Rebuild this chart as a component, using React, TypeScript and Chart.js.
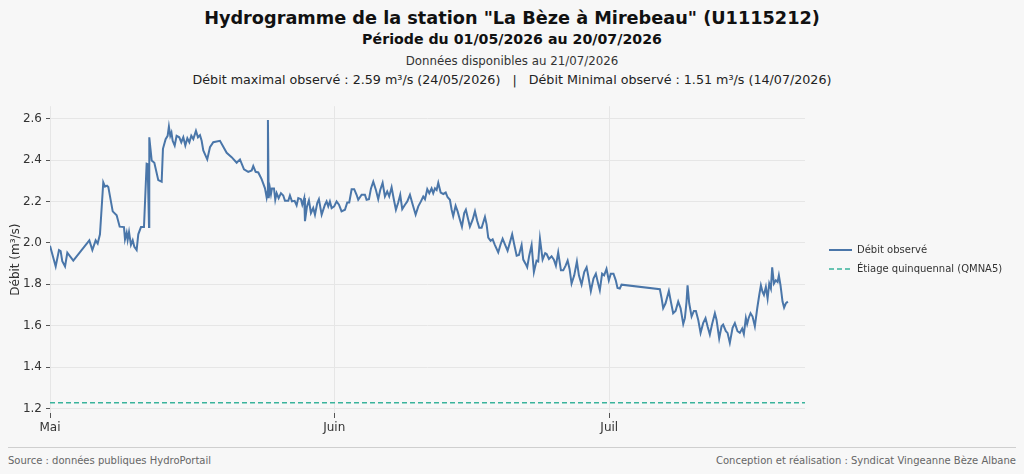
import React, { useEffect, useRef } from "react";
import { Chart, registerables } from "chart.js";

Chart.register(...registerables);

// Days since 01/05/2026 00:00
const DAYS = [
  0, 0.62, 0.98, 1.16, 1.34, 1.64, 1.89, 2.54, 4.29, 4.62, 4.98, 5.2, 5.45, 5.81, 6.0, 6.22, 6.36, 6.84, 7.27, 7.6,
  8.07, 8.18, 8.36, 8.47, 8.62, 8.83, 9.02, 9.2, 9.45, 9.63, 9.92, 10.25, 10.54, 10.65, 10.8, 10.83, 11.09, 11.38, 11.81, 12.18,
  12.32, 12.61, 12.83, 12.97, 13.12, 13.25, 13.38, 13.6, 13.81, 14.1, 14.32, 14.54, 14.76, 14.98, 15.2, 15.41, 15.63, 15.92, 16.14, 16.36,
  16.54, 16.72, 17.15, 17.45, 17.81, 18.54, 19.27, 19.81, 20.36, 20.72, 21.16, 21.62, 22.0, 22.17, 22.43, 22.72, 23.08, 23.45, 23.63, 23.74,
  23.77, 23.85, 23.99, 24.1, 24.21, 24.43, 24.57, 24.72, 24.94, 25.19, 25.44, 25.63, 25.99, 26.17, 26.39, 26.68, 26.9, 27.08, 27.37, 27.52,
  27.73, 27.81, 28.03, 28.24, 28.46, 28.71, 28.9, 29.15, 29.33, 29.63, 29.99, 30.17, 30.35, 30.53, 30.72, 31.0, 31.26, 31.52, 31.8, 32.17,
  32.42, 32.64, 32.9, 33.18, 33.44, 33.62, 33.99, 34.35, 34.53, 34.79, 35.01, 35.26, 35.55, 35.8, 36.02, 36.28, 36.53, 36.78, 37.0, 37.26,
  37.51, 37.73, 37.98, 38.2, 38.42, 38.72, 38.97, 39.26, 39.51, 39.88, 40.17, 40.46, 40.71, 40.9, 41.15, 41.37, 41.62, 41.8, 41.99, 42.17,
  42.35, 42.61, 42.9, 43.16, 43.37, 43.62, 43.81, 43.98, 44.24, 44.46, 44.71, 44.93, 45.18, 45.36, 45.62, 45.8, 46.1, 46.35, 46.6, 46.82,
  47.08, 47.44, 47.62, 47.8, 48.06, 48.28, 48.53, 48.89, 49.15, 49.37, 49.62, 49.91, 50.16, 50.41, 50.63, 50.9, 51.15, 51.44, 51.62, 51.88,
  52.05, 52.27, 52.53, 52.78, 53.07, 53.25, 53.44, 53.73, 54.01, 54.17, 54.42, 54.71, 54.96, 55.18, 55.43, 55.73, 55.98, 56.24, 56.46, 56.67,
  56.89, 57.18, 57.47, 57.69, 57.98, 58.27, 58.53, 58.7, 58.99, 59.28, 59.54, 59.79, 59.97, 60.22, 60.44, 60.7, 60.95, 61.17, 61.46, 61.71,
  61.9, 62.15, 62.34, 66.52, 66.7, 66.88, 67.14, 67.5, 67.72, 67.97, 68.23, 68.52, 68.78, 69.07, 69.25, 69.43, 69.54, 69.72, 69.98, 70.23,
  70.45, 70.7, 70.96, 71.24, 71.5, 71.72, 71.97, 72.22, 72.52, 72.7, 72.99, 73.25, 73.42, 73.72, 73.9, 74.15, 74.45, 74.7, 74.99, 75.24,
  75.5, 75.68, 75.9, 76.04, 76.2, 76.41, 76.63, 76.88, 77.14, 77.36, 77.54, 77.72, 77.87, 78.08, 78.27, 78.45, 78.63, 78.77, 78.96, 79.17,
  79.36, 79.5, 79.68, 79.9, 80.07, 80.26, 80.48,
];

// Débit observé (m³/s)
const FLOW = [
  1.986, 1.886, 1.965, 1.96, 1.911, 1.886, 1.952, 1.914, 2.012, 1.965, 2.012, 1.997, 2.041, 2.292, 2.271, 2.276, 2.27, 2.152, 2.133, 2.078,
  2.076, 2.017, 2.049, 2.014, 2.052, 1.99, 2.012, 1.981, 1.965, 2.041, 2.076, 2.076, 2.382, 2.38, 2.076, 2.51, 2.398, 2.387, 2.303, 2.295,
  2.454, 2.501, 2.517, 2.562, 2.517, 2.533, 2.493, 2.47, 2.517, 2.51, 2.486, 2.51, 2.47, 2.505, 2.486, 2.517, 2.501, 2.541, 2.51, 2.52,
  2.493, 2.446, 2.403, 2.462, 2.486, 2.493, 2.435, 2.414, 2.387, 2.403, 2.355, 2.343, 2.35, 2.371, 2.343, 2.34, 2.308, 2.263, 2.219, 2.248,
  2.593, 2.216, 2.263, 2.235, 2.263, 2.263, 2.208, 2.24, 2.216, 2.24, 2.229, 2.203, 2.203, 2.229, 2.2, 2.203, 2.181, 2.216, 2.211, 2.184,
  2.216, 2.105, 2.176, 2.205, 2.144, 2.168, 2.136, 2.192, 2.211, 2.136, 2.184, 2.2, 2.176, 2.2, 2.168, 2.176, 2.2, 2.184, 2.152, 2.16,
  2.195, 2.195, 2.259, 2.259, 2.232, 2.208, 2.232, 2.232, 2.208, 2.211, 2.263, 2.295, 2.255, 2.211, 2.255, 2.29, 2.224, 2.248, 2.224, 2.268,
  2.208, 2.16, 2.195, 2.232, 2.163, 2.184, 2.2, 2.232, 2.192, 2.136, 2.176, 2.2, 2.224, 2.211, 2.259, 2.24, 2.263, 2.24, 2.263, 2.255,
  2.29, 2.243, 2.236, 2.243, 2.22, 2.208, 2.16, 2.129, 2.179, 2.152, 2.112, 2.078, 2.144, 2.16, 2.112, 2.078, 2.112, 2.152, 2.105, 2.073,
  2.073, 2.125, 2.089, 2.025, 2.01, 2.017, 1.989, 1.954, 1.993, 2.02, 1.993, 1.962, 2.001, 2.041, 1.993, 1.938, 1.941, 1.989, 1.919, 1.898,
  1.882, 1.938, 1.989, 1.859, 1.914, 1.91, 2.02, 1.919, 1.95, 1.946, 1.922, 1.935, 1.919, 1.89, 1.954, 1.867, 1.867, 1.89, 1.914, 1.874,
  1.803, 1.843, 1.91, 1.843, 1.798, 1.859, 1.882, 1.843, 1.767, 1.827, 1.851, 1.803, 1.771, 1.851, 1.843, 1.874, 1.819, 1.851, 1.851, 1.819,
  1.782, 1.779, 1.798, 1.776, 1.735, 1.684, 1.708, 1.767, 1.716, 1.66, 1.671, 1.716, 1.684, 1.608, 1.636, 1.716, 1.795, 1.708, 1.644, 1.671,
  1.671, 1.629, 1.565, 1.612, 1.636, 1.597, 1.557, 1.608, 1.66, 1.629, 1.538, 1.597, 1.605, 1.573, 1.565, 1.517, 1.589, 1.612, 1.573, 1.565,
  1.586, 1.56, 1.636, 1.608, 1.636, 1.66, 1.644, 1.597, 1.684, 1.748, 1.795, 1.763, 1.748, 1.787, 1.731, 1.803, 1.779, 1.882, 1.803, 1.819,
  1.811, 1.843, 1.795, 1.716, 1.687, 1.708, 1.716,
];

const QMNA5 = 1.228;
const X_MIN = 0;
const X_MAX = 82.35;
const MONTH_TICKS = [0, 31, 61];
const MONTH_LABELS = ["Mai", "Juin", "Juil"];
const Y_TICKS = [1.2, 1.4, 1.6, 1.8, 2.0, 2.2, 2.4, 2.6];
const Y_MIN = 1.178;
const Y_MAX = 2.66;

const SERIES_LABEL = "Débit observé";
const QMNA_LABEL = "Étiage quinquennal (QMNA5)";

const FONT = "'DejaVu Sans', sans-serif";
const BLUE = "#4a76a9";
const TEAL = "#3ab39c";
const GRID = "#e6e6e6";
const BG = "#f7f7f7";

const LEGEND_FONT_SIZE = 10;
const LEGEND_LINE = 23;
const LEGEND_PAD = 9;
const PLOT_RIGHT = 806;
const GAP_AXIS = 15;

export default function App() {
  const ref = useRef<HTMLCanvasElement | null>(null);

  useEffect(() => {
    document.body.style.margin = "0";
    const canvas = ref.current!;
    const mctx = document.createElement("canvas").getContext("2d")!;
    mctx.font = `${LEGEND_FONT_SIZE}px ${FONT}`;
    const tw = Math.max(mctx.measureText(SERIES_LABEL).width, mctx.measureText(QMNA_LABEL).width);
    const legendW = 2 * LEGEND_PAD + LEGEND_LINE + LEGEND_FONT_SIZE / 2 + tw;
    const padRight = Math.max(0, 1024 - PLOT_RIGHT - GAP_AXIS - legendW);
    const defaultLabels = (Chart as any).defaults.plugins.legend.labels.generateLabels;

    const chart = new Chart(canvas, {
      type: "line",
      data: {
        datasets: [
          {
            label: SERIES_LABEL,
            data: DAYS.map((d, i) => ({ x: d, y: FLOW[i] })),
            borderColor: BLUE,
            backgroundColor: BLUE,
            borderWidth: 2,
            pointRadius: 0,
            tension: 0,
          },
          {
            label: QMNA_LABEL,
            data: [
              { x: X_MIN, y: QMNA5 },
              { x: X_MAX, y: QMNA5 },
            ],
            borderColor: TEAL,
            backgroundColor: TEAL,
            borderWidth: 1.5,
            borderDash: [5, 3],
            pointRadius: 0,
          },
        ],
      },
      options: {
        animation: false,
        responsive: false,
        maintainAspectRatio: false,
        layout: { padding: { top: 7, right: padRight, bottom: 0, left: 0 } },
        plugins: {
          legend: {
            position: "right",
            align: "center",
            fullSize: false,
            maxWidth: 300,
            labels: {
              usePointStyle: true,
              pointStyle: "line",
              pointStyleWidth: LEGEND_LINE,
              padding: LEGEND_PAD,
              color: "#333",
              font: { family: FONT, size: LEGEND_FONT_SIZE },
              generateLabels: (c: any) => {
                const items = defaultLabels(c);
                items.forEach((it: any) => {
                  const ds = c.data.datasets[it.datasetIndex];
                  it.lineDash = ds.borderDash || [];
                  it.lineWidth = ds.borderWidth;
                  it.strokeStyle = ds.borderColor;
                  it.fillStyle = ds.borderColor;
                });
                return items;
              },
            },
          },
          tooltip: { enabled: false },
        },
        scales: {
          x: {
            type: "linear",
            min: X_MIN,
            max: X_MAX,
            afterBuildTicks: (s: any) => {
              s.ticks = MONTH_TICKS.map((v) => ({ value: v }));
            },
            afterFit: (s: any) => {
              s.height = 27;
            },
            ticks: {
              autoSkip: false,
              maxRotation: 0,
              padding: 3,
              color: "#333",
              font: { family: FONT, size: 12 },
              callback: (v: any) => {
                const i = MONTH_TICKS.indexOf(Number(v));
                return i >= 0 ? MONTH_LABELS[i] : "";
              },
            },
            grid: { color: GRID, tickColor: "#555", tickLength: 5 },
            border: { display: false },
          },
          y: {
            type: "linear",
            min: Y_MIN,
            max: Y_MAX,
            afterBuildTicks: (s: any) => {
              s.ticks = Y_TICKS.map((v) => ({ value: v }));
            },
            afterFit: (s: any) => {
              s.width = 50;
            },
            ticks: {
              padding: 4,
              color: "#333",
              font: { family: FONT, size: 12 },
              callback: (v: any) => Number(v).toFixed(1),
            },
            grid: { color: GRID, tickColor: "#555", tickLength: 4 },
            border: { display: false },
            title: {
              display: true,
              text: "Débit (m³/s)",
              color: "#333",
              font: { family: FONT, size: 12 },
              padding: { top: 9, bottom: 0 },
            },
          },
          gap: {
            type: "linear",
            position: "right",
            display: true,
            grid: { display: false, drawTicks: false },
            border: { display: false },
            ticks: { display: false },
            afterFit: (s: any) => {
              s.width = GAP_AXIS;
            },
          },
        },
      },
    } as any);
    return () => chart.destroy();
  }, []);

  const center: React.CSSProperties = {
    position: "absolute",
    left: 0,
    width: 1024,
    textAlign: "center",
    whiteSpace: "nowrap",
    color: "#111",
    fontFamily: FONT,
  };

  return (
    <div
      style={{
        position: "fixed",
        left: 0,
        top: 0,
        width: 1024,
        height: 474,
        background: BG,
        overflow: "hidden",
        fontFamily: FONT,
      }}
    >
      <div style={{ ...center, top: 6, fontSize: 17.7, fontWeight: "bold", lineHeight: "24px" }}>
        Hydrogramme de la station "La Bèze à Mirebeau" (U1115212)
      </div>
      <div style={{ ...center, top: 29, fontSize: 14.2, fontWeight: "bold", lineHeight: "20px" }}>
        Période du 01/05/2026 au 20/07/2026
      </div>
      <div style={{ ...center, top: 53, fontSize: 11.8, lineHeight: "16px", color: "#333" }}>
        Données disponibles au 21/07/2026
      </div>
      <div style={{ ...center, top: 71, fontSize: 12.7, lineHeight: "18px", color: "#222" }}>
        Débit maximal observé : 2.59 m³/s (24/05/2026) &nbsp; | &nbsp; Débit Minimal observé : 1.51 m³/s (14/07/2026)
      </div>
      <canvas
        ref={ref}
        width={1024}
        height={345}
        style={{ position: "absolute", left: 0, top: 95, width: 1024, height: 345, display: "block" }}
      />
      <div style={{ position: "absolute", left: 8, top: 447, width: 1008, height: 1, background: "#cfcfcf" }} />
      <div
        style={{
          position: "absolute",
          left: 8,
          top: 453,
          fontSize: 10,
          lineHeight: "16px",
          color: "#666",
          whiteSpace: "nowrap",
        }}
      >
        Source : données publiques HydroPortail
      </div>
      <div
        style={{
          position: "absolute",
          right: 8,
          top: 453,
          fontSize: 10,
          lineHeight: "16px",
          color: "#666",
          whiteSpace: "nowrap",
        }}
      >
        Conception et réalisation : Syndicat Vingeanne Bèze Albane
      </div>
    </div>
  );
}
